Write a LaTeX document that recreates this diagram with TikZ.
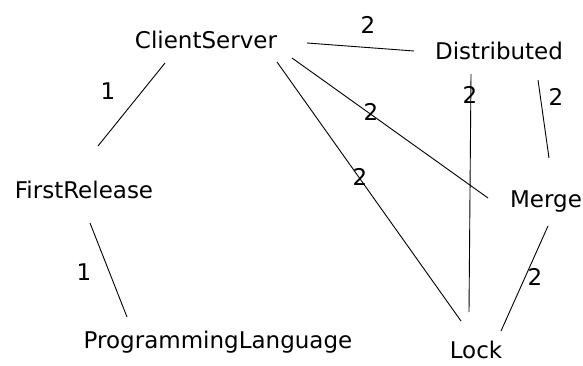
\documentclass[tikz,border=0pt]{standalone}
\usepackage{fontspec}
\setmainfont{DejaVu Sans}
\usetikzlibrary{positioning}

\begin{document}
\begin{tikzpicture}[
    x=1pt, y=-1pt,
    concept/.style={
        inner sep=0pt,
        anchor=base,
        font=\fontsize{23}{27}\selectfont
    },
    weight/.style={inner sep=0pt, font=\fontsize{23}{27}\selectfont},
    link/.style={draw=black, line width=0.9pt}
]
\useasboundingbox (0,0) rectangle (583,365);

% Concepts
\node[concept] (cs) at (206,48) {ClientServer};
\node[concept] (di) at (499,59) {Distributed};
\node[concept] (fr) at (84,198) {FirstRelease};
\node[concept] (me) at (546,207) {Merge};
\node[concept] (pl) at (218,348) {ProgrammingLanguage};
\node[concept] (lo) at (476,358) {Lock};

% Links
\path[link] ([shift={(-41,15)}]cs.base) -- ([shift={(14,-52)}]fr.base);
\path[link] ([shift={(6,25)}]fr.base) -- ([shift={(-91,-31)}]pl.base);
\path[link] ([shift={(101,-5)}]cs.base) -- ([shift={(-85,-8)}]di.base);
\path[link] ([shift={(86,10)}]cs.base) -- ([shift={(-58,-9)}]me.base);
\path[link] ([shift={(71,14)}]cs.base) -- ([shift={(-15,-37)}]lo.base);
\path[link] ([shift={(-28,15)}]di.base) -- ([shift={(-7,-46)}]lo.base);
\path[link] ([shift={(39,21)}]di.base) -- ([shift={(3,-49)}]me.base);
\path[link] ([shift={(2,19)}]me.base) -- ([shift={(25,-27)}]lo.base);

% Weights
\node[weight] (w1) at (108,91) {1};
\node[weight] (w2) at (84,272) {1};
\node[weight] (w3) at (368,25) {2};
\node[weight] (w4) at (371,112) {2};
\node[weight] (w5) at (360,177) {2};
\node[weight] (w6) at (470,95) {2};
\node[weight] (w7) at (556,97) {2};
\node[weight] (w8) at (535,277) {2};

\end{tikzpicture}
\end{document}
